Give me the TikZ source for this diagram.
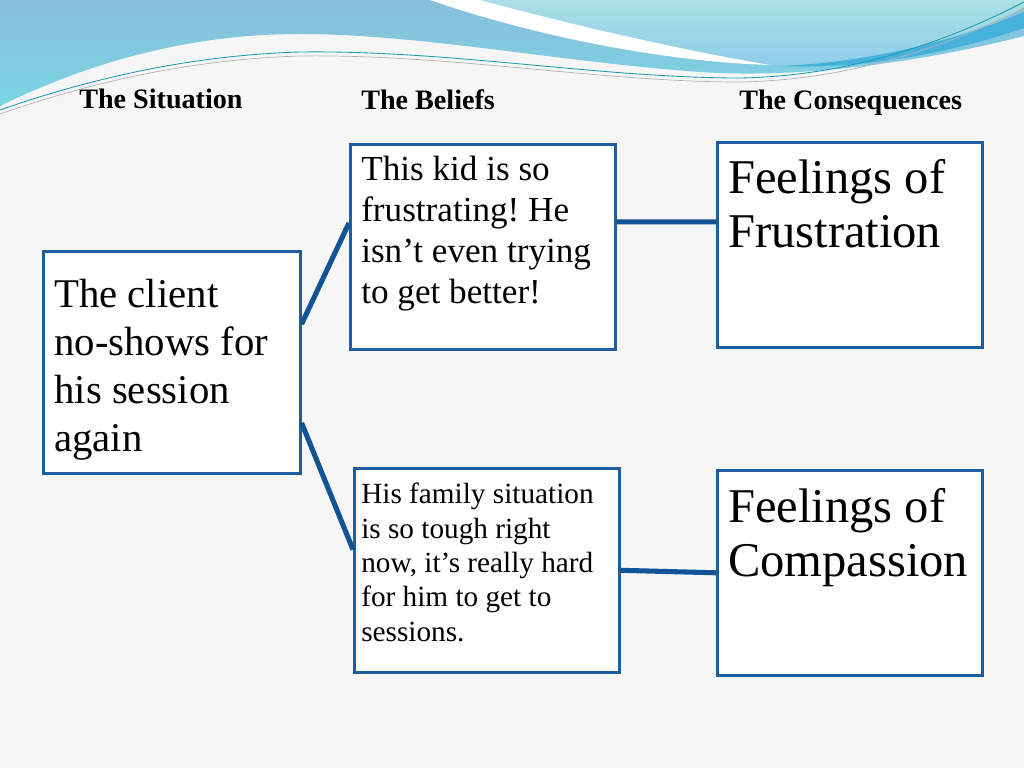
\documentclass[tikz,border=0pt]{standalone}
\usepackage{fontspec}
\setmainfont{Liberation Serif}
\frenchspacing
\usetikzlibrary{calc}
\definecolor{boxblue}{RGB}{31,94,158}
\definecolor{linkblue}{RGB}{16,84,150}
\definecolor{paper}{RGB}{246,246,246}
\definecolor{waveblue}{RGB}{136,190,218}
\definecolor{wavecyan}{RGB}{122,214,228}
\definecolor{wavelight}{RGB}{170,224,229}
\definecolor{wavesky}{RGB}{142,204,234}
\definecolor{wavedeep}{RGB}{70,178,220}
\definecolor{waveteal}{RGB}{30,154,174}

\begin{document}
\begin{tikzpicture}[x=0.025cm, y=-0.025cm,
    box/.style={draw=boxblue, line width=1.8pt, fill=white, inner sep=0pt, anchor=north west, minimum width=6.625cm, minimum height=5.125cm},
    txt/.style={anchor=north west, inner sep=0pt, align=left},
    head/.style={anchor=base west, inner sep=0pt, font=\fontsize{20}{24}\selectfont\bfseries},
    link/.style={draw=linkblue, line width=3.6pt}
]
\useasboundingbox (0,0) rectangle (1024,768);
\fill[paper] (0,0) rectangle (1024,768);

% wave at the top
\shade[top color=waveblue, bottom color=wavecyan] (0,0) -- (0,106) .. controls (90,62) and (190,34) .. (300,34) .. controls (420,34) and (560,62) .. (700,72) .. controls (820,80) and (950,55) .. (1024,36) -- (1024,0) -- cycle;
\shade[top color=wavelight, bottom color=wavesky] (480,0) .. controls (560,22) and (680,50) .. (770,65) .. controls (880,68) and (970,35) .. (1024,8) -- (1024,0) -- cycle;
\fill[white] (430,0) .. controls (540,38) and (670,62) .. (770,65) .. controls (680,50) and (560,22) .. (480,0) -- cycle;
\fill[wavedeep] (780,66) .. controls (880,62) and (970,35) .. (1024,12) -- (1024,28) .. controls (960,50) and (870,70) .. (780,66) -- cycle;
\draw[waveteal, line width=0.6pt] (0,110) .. controls (100,75) and (200,55) .. (300,52) .. controls (450,50) and (600,78) .. (740,78) .. controls (860,76) and (960,35) .. (1024,2);
\draw[gray!60, line width=0.5pt] (0,114) .. controls (100,79) and (200,59) .. (300,56) .. controls (450,54) and (600,82) .. (740,82) .. controls (860,80) and (960,40) .. (1024,8);

\node[head] (sit-head) at (79,109) {The Situation};
\node[head] (bel-head) at (361,110) {The Beliefs};
\node[head] (con-head) at (739,110) {The Consequences};

\node[box, minimum width=6.425cm, minimum height=5.55cm] (sit) at (42,250) {};
\node[box] (bel1) at (349,143) {};
\node[box, minimum height=5.1cm] (bel2) at (353,467) {};
\node[box] (con1) at (716,141) {};
\node[box] (con2) at (716,469) {};

\node[txt, font=\fontsize{29}{34}\selectfont] (sit-txt) at ($(sit.north west)+(12,29)$) {The client\\no-shows for\\his session\\again};
\node[txt, font=\fontsize{25}{29.2}\selectfont] (bel1-txt) at ($(bel1.north west)+(12,13)$) {This kid is so\\frustrating! He\\isn’t even trying\\to get better!};
\node[txt, font=\fontsize{20.8}{24.4}\selectfont] (bel2-txt) at ($(bel2.north west)+(8,16)$) {His family situation\\is so tough right\\now, it’s really hard\\for him to get to\\sessions.};
\node[txt, font=\fontsize{34.5}{38.4}\selectfont] (con1-txt) at ($(con1.north west)+(12,18)$) {Feelings of\\Frustration};
\node[txt, font=\fontsize{34.5}{38.4}\selectfont] (con2-txt) at ($(con2.north west)+(12,19)$) {Feelings of\\Compassion};

\draw[link] ($(sit.north east)!.33!(sit.south east)$) -- ($(bel1.north west)!.385!(bel1.south west)$);
\draw[link] ($(sit.north east)!.77!(sit.south east)$) -- ($(bel2.north west)!.4!(bel2.south west)$);
\draw[link] ($(bel1.north east)!.38!(bel1.south east)$) -- ($(con1.north west)!.39!(con1.south west)$);
\draw[link] (bel2.east) -- (con2.west);
\end{tikzpicture}
\end{document}
